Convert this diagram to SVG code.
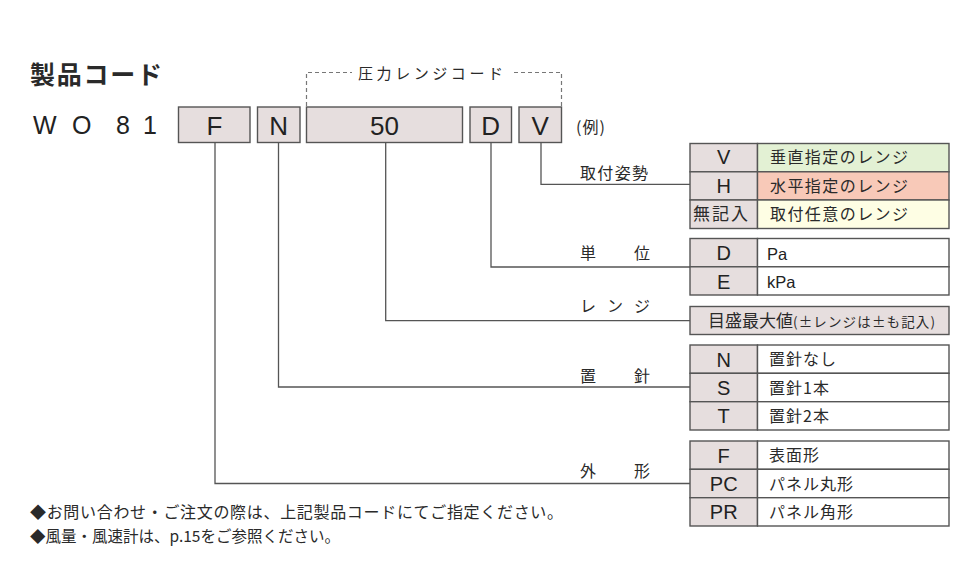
<svg xmlns="http://www.w3.org/2000/svg" width="975" height="585" viewBox="0 0 975 585">
<style>
  .jp { font-family: "Noto Sans CJK JP", sans-serif; fill: #2a2a2a; }
  .lat { font-family: "Liberation Sans", Arial, sans-serif; fill: #222; }
  .box { fill: #e6dede; stroke: #555; stroke-width: 1.4; }
  .cell { fill: #ffffff; stroke: #555; stroke-width: 1.4; }
  .grn { fill: #e3f1d4; stroke: #555; stroke-width: 1.4; }
  .red { fill: #f8c9b8; stroke: #555; stroke-width: 1.4; }
  .yel { fill: #fefee4; stroke: #555; stroke-width: 1.4; }
  .conn { fill: none; stroke: #555; stroke-width: 1.3; }
  .dash { fill: none; stroke: #777; stroke-width: 1.2; stroke-dasharray: 4 3; }
  .big { font-size: 26px; text-anchor: middle; }
  .key { font-size: 20px; text-anchor: middle; }
  .val { font-size: 16px; letter-spacing: 1px; }
  .lbl { font-size: 16px; }
</style>

<g id="title">
  <text class="jp" x="30" y="84" font-size="25" font-weight="700" textLength="132" lengthAdjust="spacing">製品コード</text>
</g>

<g id="code-prefix">
  <text class="lat" y="134" font-size="25" x="33 57 72 96 116 137 143">W O 8 1</text>
</g>

<g id="box-F">
  <rect class="box" x="178.5" y="107" width="71.5" height="35.5"/>
  <text class="lat big" x="214.5" y="134.5">F</text>
</g>
<g id="box-N">
  <rect class="box" x="257.5" y="107" width="42.5" height="35.5"/>
  <text class="lat big" x="278.7" y="134.5">N</text>
</g>
<g id="box-50">
  <rect class="box" x="306.5" y="107" width="156" height="35.5"/>
  <text class="lat big" x="384.5" y="134.5">50</text>
</g>
<g id="box-D">
  <rect class="box" x="470" y="107" width="41.5" height="35.5"/>
  <text class="lat big" x="490.7" y="134.5">D</text>
</g>
<g id="box-V">
  <rect class="box" x="519" y="107" width="42.5" height="35.5"/>
  <text class="lat big" x="540.2" y="134.5">V</text>
</g>
<g id="example">
  <text class="jp" x="576" y="133" font-size="16" letter-spacing="1">(例)</text>
</g>

<g id="pressure-range-bracket">
  <path class="dash" d="M306.5,106 V72.5 H352"/>
  <path class="dash" d="M514,72.5 H561.5 V106"/>
  <text class="jp" x="358" y="79" font-size="15" textLength="145" lengthAdjust="spacing">圧力レンジコード</text>
</g>

<g id="connectors">
  <path class="conn" d="M541,142.5 V184.3 H690"/>
  <path class="conn" d="M491,142.5 V267 H690"/>
  <path class="conn" d="M385.7,142.5 V320.7 H690"/>
  <path class="conn" d="M278.5,142.5 V387 H690"/>
  <path class="conn" d="M215,142.5 V483.5 H690"/>
</g>

<g id="labels">
  <text class="jp lbl" x="580" y="179" textLength="68" lengthAdjust="spacing">取付姿勢</text>
  <text class="jp lbl" x="580" y="259" textLength="70" lengthAdjust="spacing">単　位</text>
  <text class="jp lbl" x="580" y="312" textLength="70" lengthAdjust="spacing">レンジ</text>
  <text class="jp lbl" x="580" y="382" textLength="70" lengthAdjust="spacing">置　針</text>
  <text class="jp lbl" x="580" y="477" textLength="70" lengthAdjust="spacing">外　形</text>
</g>

<g id="table-posture">
  <rect class="box" x="690" y="143.5" width="67.5" height="28.3"/>
  <rect class="grn" x="757.5" y="143.5" width="191.5" height="28.3"/>
  <rect class="box" x="690" y="171.8" width="67.5" height="28.2"/>
  <rect class="red" x="757.5" y="171.8" width="191.5" height="28.2"/>
  <rect class="box" x="690" y="200" width="67.5" height="28.5"/>
  <rect class="yel" x="757.5" y="200" width="191.5" height="28.5"/>
  <text class="lat key" x="723.7" y="164">V</text>
  <text class="lat key" x="723.7" y="192.5">H</text>
  <text class="jp" x="693" y="220" font-size="17" textLength="55" lengthAdjust="spacing">無記入</text>
  <text class="jp" x="770" y="163" font-size="16" textLength="138" lengthAdjust="spacing">垂直指定のレンジ</text>
  <text class="jp" x="770" y="191.5" font-size="16" textLength="138" lengthAdjust="spacing">水平指定のレンジ</text>
  <text class="jp" x="770" y="220" font-size="16" textLength="138" lengthAdjust="spacing">取付任意のレンジ</text>
</g>

<g id="table-unit">
  <rect class="box" x="690" y="238.5" width="67.5" height="28.3"/>
  <rect class="cell" x="757.5" y="238.5" width="191.5" height="28.3"/>
  <rect class="box" x="690" y="266.8" width="67.5" height="28.2"/>
  <rect class="cell" x="757.5" y="266.8" width="191.5" height="28.2"/>
  <text class="lat key" x="723.7" y="260">D</text>
  <text class="lat key" x="723.7" y="288.5">E</text>
  <text class="lat" x="767" y="259.5" font-size="16.5">Pa</text>
  <text class="lat" x="767" y="288" font-size="16.5">kPa</text>
</g>

<g id="table-range">
  <rect class="box" x="690" y="306.5" width="259" height="28"/>
  <text class="jp" x="708" y="327" font-size="17">目盛最大値<tspan font-size="13.5" textLength="142" lengthAdjust="spacing">(±レンジは±も記入)</tspan></text>
</g>

<g id="table-pointer">
  <rect class="box" x="690" y="345" width="67.5" height="28.3"/>
  <rect class="cell" x="757.5" y="345" width="191.5" height="28.3"/>
  <rect class="box" x="690" y="373.3" width="67.5" height="28.4"/>
  <rect class="cell" x="757.5" y="373.3" width="191.5" height="28.4"/>
  <rect class="box" x="690" y="401.7" width="67.5" height="28.3"/>
  <rect class="cell" x="757.5" y="401.7" width="191.5" height="28.3"/>
  <text class="lat key" x="723.7" y="366.5">N</text>
  <text class="lat key" x="723.7" y="395">S</text>
  <text class="lat key" x="723.7" y="423.3">T</text>
  <text class="jp val" x="769" y="365">置針なし</text>
  <text class="jp val" x="769" y="393.5">置針1本</text>
  <text class="jp val" x="769" y="422">置針2本</text>
</g>

<g id="table-shape">
  <rect class="box" x="690" y="441" width="67.5" height="28.3"/>
  <rect class="cell" x="757.5" y="441" width="191.5" height="28.3"/>
  <rect class="box" x="690" y="469.3" width="67.5" height="28.4"/>
  <rect class="cell" x="757.5" y="469.3" width="191.5" height="28.4"/>
  <rect class="box" x="690" y="497.7" width="67.5" height="28.3"/>
  <rect class="cell" x="757.5" y="497.7" width="191.5" height="28.3"/>
  <text class="lat key" x="723.7" y="462.5">F</text>
  <text class="lat key" x="723.7" y="491">PC</text>
  <text class="lat key" x="723.7" y="519.3">PR</text>
  <text class="jp val" x="769" y="461">表面形</text>
  <text class="jp val" x="769" y="489.5">パネル丸形</text>
  <text class="jp val" x="769" y="518">パネル角形</text>
</g>

<g id="footer">
  <text class="jp" x="30" y="518" font-size="16" textLength="533" lengthAdjust="spacing">◆お問い合わせ・ご注文の際は、上記製品コードにてご指定ください。</text>
  <text class="jp" x="30" y="542" font-size="15.5">◆風量・風速計は、p.15をご参照ください。</text>
</g>
</svg>
